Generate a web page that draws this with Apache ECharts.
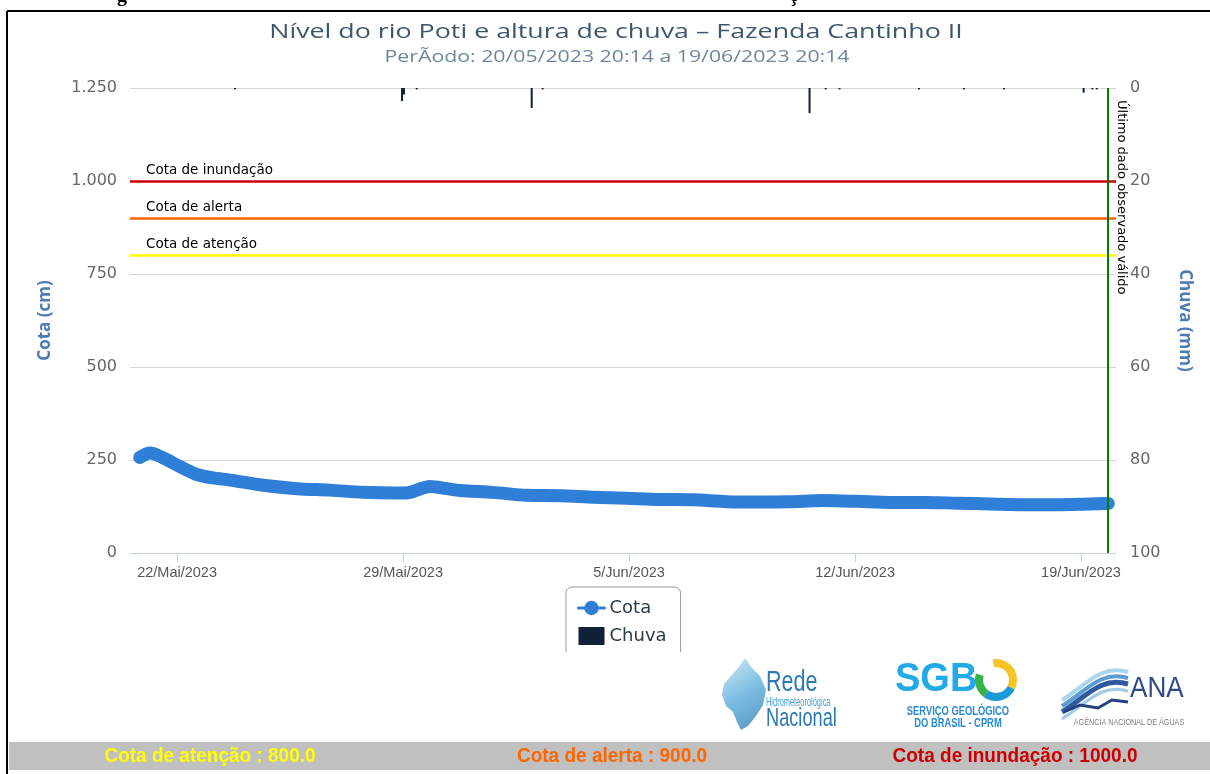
<!DOCTYPE html>
<html><head><meta charset="utf-8">
<script src="https://cdn.jsdelivr.net/npm/echarts@6/dist/echarts.min.js"></script>
<style>html,body{margin:0;padding:0;background:#fff}#c{width:1210px;height:774px}</style>
</head><body><div id="c"></div>
<script>
// ---- data ----
const cotaTimes = ['2023-05-20 20:14','2023-05-21 04:00','2023-05-21 13:30','2023-05-22 02:15','2023-05-22 14:40','2023-05-23 02:45','2023-05-23 15:20','2023-05-24 16:00','2023-05-25 17:10','2023-05-26 17:45','2023-05-27 18:15','2023-05-28 19:30','2023-05-29 05:10','2023-05-29 20:00','2023-05-30 08:40','2023-05-30 18:20','2023-05-31 18:50','2023-06-01 20:10','2023-06-02 20:40','2023-06-03 21:10','2023-06-04 22:30','2023-06-05 23:00','2023-06-06 23:30','2023-06-08 00:45','2023-06-09 01:15','2023-06-09 23:35','2023-06-11 00:00','2023-06-12 01:25','2023-06-13 02:00','2023-06-14 02:30','2023-06-15 03:50','2023-06-16 04:20','2023-06-17 04:50','2023-06-18 06:00','2023-06-19 06:30','2023-06-19 20:14'];
const cotaValues = [257,269,256,232,211,202,196,182,173,169,163,161,163,179,173,168,163,155,154,150,147,144,143,138,137,138,141,139,136,136,134,132,130,130,132,133];
const chuvaTimes = ['2023-05-23 19:06','2023-05-28 23:14','2023-05-29 00:43','2023-05-29 10:09','2023-06-01 23:38','2023-06-02 07:48','2023-06-10 14:10','2023-06-11 02:10','2023-06-11 12:30','2023-06-13 23:30','2023-06-15 08:55','2023-06-16 14:40','2023-06-19 01:55','2023-06-19 08:25','2023-06-19 11:45'];
const chuvaValues = [0.3,2.8,1.4,0.3,4.3,0.3,5.4,0.3,0.3,0.3,0.3,0.3,1.0,0.3,0.3];
const xTickDates = ['2023-05-22 00:00','2023-05-29 00:00','2023-06-05 00:00','2023-06-12 00:00','2023-06-19 00:00'];
const xTickLabels = ['22/Mai/2023','29/Mai/2023','5/Jun/2023','12/Jun/2023','19/Jun/2023'];
const cotaTickLabels = ['0','250','500','750','1.000','1.250'];
const chuvaTickLabels = ['0','20','40','60','80','100'];
const referenceLevels = [1000, 900, 800];
const referenceNames = ['Cota de inundação','Cota de alerta','Cota de atenção'];
const referenceColors = ['#cc0000','#ff6600','#ffff00'];
const footerTexts = ['Cota de atenção : 800.0','Cota de alerta : 900.0','Cota de inundação : 1000.0'];
const footerColors = ['#ffff00','#ff6600','#cc0000'];
const titleText = 'Nível do rio Poti e altura de chuva – Fazenda Cantinho II';
const subtitleText = 'PerÃodo: 20/05/2023 20:14 a 19/06/2023 20:14';
const lastValidTime = '2023-06-19 20:14';
const xRange = ['2023-05-20 13:00','2023-06-20 02:00'];

function ts(s){const [d,t='00:00']=s.split(' ');const [Y,M,D]=d.split('-').map(Number);const [h,m]=t.split(':').map(Number);return Date.UTC(Y,M-1,D,h,m);}
const tickTs = xTickDates.map(ts);

const chart = echarts.init(document.getElementById('c'), null, {renderer:'canvas'});

const footerX = [210, 612, 1015];
const graphics = [
  {type:'line', shape:{x1:7,y1:11,x2:1210,y2:11}, style:{stroke:'#000',lineWidth:2}, z:50},
  {type:'line', shape:{x1:7,y1:11,x2:7,y2:774}, style:{stroke:'#000',lineWidth:2}, z:50},
  {type:'text', x:117, y:-14, style:{text:'g', font:'bold 20px "Liberation Serif"', fill:'#000'}, z:50},
  {type:'text', x:789, y:-14, style:{text:'ç', font:'bold 20px "Liberation Serif"', fill:'#000'}, z:50},
  {type:'text', x:616, y:32, scaleX:1.34, style:{text:titleText, font:'20px "Open Sans"', fill:'#3e576f', align:'center', verticalAlign:'middle'}, z:50},
  {type:'text', x:617, y:57, scaleX:1.33, style:{text:subtitleText, font:'16px "Open Sans"', fill:'#6d869f', align:'center', verticalAlign:'middle'}, z:50},
  {type:'rect', shape:{x:555,y:652,width:140,height:80}, style:{fill:'#fff'}, z:100},
  {type:'rect', shape:{x:9,y:742,width:1201,height:28}, style:{fill:'#c0c0c0'}, z:50}
];
footerTexts.forEach((t,i)=>graphics.push({type:'text', x:footerX[i], y:756, scaleY:1.1, style:{text:t, fill:footerColors[i], font:'bold 19px "Liberation Sans"', align:'center', verticalAlign:'middle'}, z:51}));

// Rede Hidrometeorológica Nacional
graphics.push({type:'polygon', shape:{points:[[745,658],[752,668],[760,676],[766,690],[763,705],[756,716],[748,726],[741,730],[737,722],[733,712],[726,706],[722,695],[724,684],[731,676],[738,668]]},
  style:{fill:new echarts.graphic.LinearGradient(0,0,1,1,[{offset:0,color:'#c6e4f4'},{offset:0.5,color:'#5aaedb'},{offset:1,color:'#2a78ad'}]), opacity:0.8}, z:60});
graphics.push({type:'text', x:766, y:668, scaleX:0.72, style:{text:'Rede', font:'30px "Liberation Sans"', fill:'#2b79b5'}, z:60});
graphics.push({type:'text', x:766, y:697, scaleX:0.62, style:{text:'Hidrometeorológica', font:'12px "Liberation Sans"', fill:'#3fa0dc'}, z:60});
graphics.push({type:'text', x:766, y:706, scaleX:0.70, style:{text:'Nacional', font:'26px "Liberation Sans"', fill:'#2b79b5'}, z:60});
// SGB
graphics.push({type:'text', x:895, y:660, scaleX:0.95, style:{text:'SGB', font:'bold 40px "Liberation Sans"', fill:'#22aae6'}, z:60});
graphics.push({type:'arc', shape:{cx:996,cy:680,r:17,startAngle:-Math.PI*0.55,endAngle:Math.PI*0.15}, style:{stroke:'#f7c428',lineWidth:8,fill:null}, z:60});
graphics.push({type:'arc', shape:{cx:996,cy:680,r:17,startAngle:Math.PI*0.15,endAngle:Math.PI*0.7}, style:{stroke:'#1a9ad6',lineWidth:8,fill:null}, z:60});
graphics.push({type:'arc', shape:{cx:996,cy:680,r:17,startAngle:Math.PI*0.7,endAngle:Math.PI*1.1}, style:{stroke:'#35b34a',lineWidth:8,fill:null}, z:60});
graphics.push({type:'text', x:958, y:712, scaleX:0.78, style:{text:'SERVIÇO GEOLÓGICO', font:'bold 12px "Liberation Sans"', fill:'#2a8ad6', align:'center', verticalAlign:'middle'}, z:60});
graphics.push({type:'text', x:958, y:724, scaleX:0.78, style:{text:'DO BRASIL - CPRM', font:'bold 12px "Liberation Sans"', fill:'#2a8ad6', align:'center', verticalAlign:'middle'}, z:60});
// ANA
const wave = (dy,c,w)=>({type:'bezierCurve', shape:{x1:1062,y1:704+dy,cpx1:1085,cpy1:690+dy,cpx2:1100,cpy2:668+dy,x2:1128,y2:676+dy}, style:{stroke:c,lineWidth:w,fill:null}, z:60});
graphics.push(wave(-4,'#a9d6ef',4), wave(2,'#5c9bd3',4), wave(8,'#2f5aa2',5), wave(15,'#9fcbe8',3));
graphics.push({type:'polyline', shape:{points:[[1064,712],[1080,705],[1098,708],[1112,700],[1128,702]]}, style:{stroke:'#253f80',lineWidth:3,fill:null}, z:60});
graphics.push({type:'text', x:1130, y:674, scaleX:0.9, style:{text:'ANA', font:'29px "Liberation Sans"', fill:'#2c4a8c'}, z:60});
graphics.push({type:'text', x:1129, y:723, scaleX:0.8, style:{text:'AGÊNCIA NACIONAL DE ÁGUAS', font:'9px "Liberation Sans"', fill:'#7a7a7a', align:'center', verticalAlign:'middle'}, z:60});

const option = {
  backgroundColor:'#fff',
  animation:false,
  legend:{
    orient:'vertical', left:566, top:587, padding:[12,14,40,11], itemGap:10,
    itemWidth:26, itemHeight:18,
    borderColor:'#999', borderWidth:1, borderRadius:6,
    textStyle:{fontFamily:'DejaVu Sans', fontSize:18, color:'#2c3a4c'},
    data:[
      {name:'Cota', lineStyle:{width:3, color:'#2f7ed8'}, itemStyle:{color:'#2f7ed8'}},
      {name:'Chuva', icon:'rect', itemStyle:{color:'#0f2138'}}
    ]
  },
  grid:{left:130, right:94, top:88, bottom:221, containLabel:false},
  xAxis:{
    type:'value', min:ts(xRange[0]), max:ts(xRange[1]), scale:true,
    axisLine:{show:true, lineStyle:{color:'#c0d0e0', width:1}},
    axisTick:{show:true, length:9, lineStyle:{color:'#c0d0e0'}, customValues:tickTs},
    axisLabel:{customValues:tickTs, margin:12, color:'#555', fontFamily:'Liberation Sans', fontSize:14.5,
      formatter:(v)=>{let best=0,bd=Infinity;tickTs.forEach((t,i)=>{const d=Math.abs(t-v);if(d<bd){bd=d;best=i;}});return bd<3600000?xTickLabels[best]:'';}},
    splitLine:{show:false}
  },
  yAxis:[
    {type:'value', min:0, max:1250, interval:250,
     name:'Cota (cm)', nameLocation:'middle', nameGap:76, nameRotate:90,
     nameTextStyle:{fontFamily:'Open Sans', fontSize:17, fontWeight:'bold', color:'#4d7cb5'},
     axisLine:{show:false}, axisTick:{show:false},
     axisLabel:{margin:13, color:'#666', fontFamily:'DejaVu Sans', fontSize:16, formatter:(v)=>cotaTickLabels[Math.round(v/250)]},
     splitLine:{lineStyle:{color:'#d6d6d6', width:1}}},
    {type:'value', min:0, max:100, interval:20, inverse:true, position:'right',
     name:'Chuva (mm)', nameLocation:'middle', nameGap:60, nameRotate:-90,
     nameTextStyle:{fontFamily:'Open Sans', fontSize:17, fontWeight:'bold', color:'#4d7cb5'},
     axisLine:{show:false}, axisTick:{show:false},
     axisLabel:{margin:14, color:'#666', fontFamily:'DejaVu Sans', fontSize:16, formatter:(v)=>chuvaTickLabels[Math.round(v/20)]},
     splitLine:{show:false}}
  ],
  series:[
    {name:'Cota', type:'line', yAxisIndex:0, z:2,
     data:cotaTimes.map((t,i)=>[ts(t), cotaValues[i]]),
     smooth:0.3, symbol:'circle', symbolSize:10, showSymbol:false,
     lineStyle:{color:'#2f7ed8', width:13, cap:'round', join:'round'},
     itemStyle:{color:'#2f7ed8'},
     markLine:{silent:true, symbol:['none','none'], animation:false,
       label:{show:true, position:'insideStartTop', distance:[16,4], color:'#000', fontFamily:'DejaVu Sans', fontSize:13.5},
       data:referenceLevels.map((v,i)=>({yAxis:v, lineStyle:{color:referenceColors[i], width:2.5, type:'solid'}, label:{formatter:referenceNames[i]}}))}
    },
    {name:'Chuva', type:'bar', yAxisIndex:1, z:5, barWidth:2,
     data:chuvaTimes.map((t,i)=>[ts(t), chuvaValues[i]]),
     itemStyle:{color:'#0f2138'},
     markLine:{silent:true, symbol:['none','none'], animation:false,
       lineStyle:{color:'#008000', width:2, type:'solid'},
       label:{show:true, position:'insideStartTop', distance:[12,7], color:'#000', fontFamily:'DejaVu Sans', fontSize:13, formatter:'Último dado observado válido'},
       data:[{xAxis:ts(lastValidTime)}]}
    }
  ],
  graphic:graphics
};
chart.setOption(option);
</script></body></html>
